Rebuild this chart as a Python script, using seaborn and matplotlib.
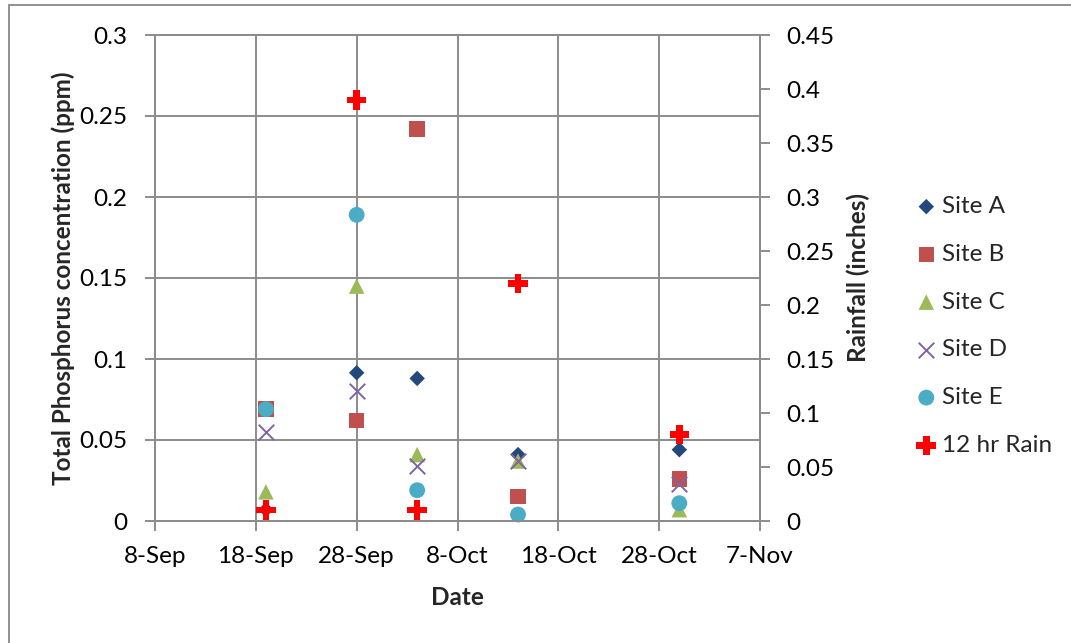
import matplotlib
matplotlib.use("Agg")
import matplotlib.pyplot as plt
from matplotlib.patches import Rectangle
import seaborn as sns
import pandas as pd

# Sampling dates and measurements
sample_dates = ["2011-09-19", "2011-09-28", "2011-10-04", "2011-10-14", "2011-10-30"]
site_a = [0.007, 0.0915, 0.088, 0.041, 0.044]
site_b = [0.069, 0.062, 0.242, 0.015, 0.026]
site_c = [0.018, 0.145, 0.041, 0.037, 0.007]
site_d = [0.055, 0.080, 0.034, 0.037, 0.023]
site_e = [0.069, 0.189, 0.019, 0.004, 0.011]
rain_12hr = [0.01, 0.39, 0.01, 0.22, 0.08]

site_names = ["Site A", "Site B", "Site C", "Site D", "Site E"]
rain_name = "12 hr Rain"

x_tick_dates = ["2011-09-08", "2011-09-18", "2011-09-28", "2011-10-08",
                "2011-10-18", "2011-10-28", "2011-11-07"]
x_tick_labels = ["8-Sep", "18-Sep", "28-Sep", "8-Oct", "18-Oct", "28-Oct", "7-Nov"]
left_ticks = [0, 0.05, 0.1, 0.15, 0.2, 0.25, 0.3]
left_tick_labels = ["0", "0.05", "0.1", "0.15", "0.2", "0.25", "0.3"]
right_ticks = [0, 0.05, 0.1, 0.15, 0.2, 0.25, 0.3, 0.35, 0.4, 0.45]
right_tick_labels = ["0", "0.05", "0.1", "0.15", "0.2", "0.25", "0.3", "0.35", "0.4", "0.45"]

sns.set_theme(style="white")
plt.rcParams["font.family"] = ["Lato", "DejaVu Sans"]

FS = 17.5
GRID = "#8c8c8c"

dates = pd.to_datetime(sample_dates)
sites = pd.DataFrame({"Date": dates, "Site A": site_a, "Site B": site_b,
                      "Site C": site_c, "Site D": site_d, "Site E": site_e})
rain = pd.DataFrame({"Date": dates, "Rain": rain_12hr})

fig = plt.figure(figsize=(10.71, 6.43), dpi=100)
ax = fig.add_axes([155 / 1071, 1 - 521 / 643, 605 / 1071, 486 / 643])
ax2 = ax.twinx()

styles = {
    "Site A": dict(marker="D", color="#23497c", s=62),
    "Site B": dict(marker="s", color="#c0504d", s=125),
    "Site C": dict(marker="^", color="#9bbb59", s=125),
    "Site D": dict(marker="x", color="#8064a2", s=125, linewidth=1.4),
    "Site E": dict(marker="o", color="#4bacc6", s=130),
}

for name in site_names:
    st = dict(styles[name])
    lw = st.pop("linewidth", 0)
    sns.scatterplot(data=sites, x="Date", y=name, ax=ax, label=name,
                    edgecolor=st["color"] if lw else "none", linewidth=lw,
                    zorder=3, clip_on=False, **st)

sns.scatterplot(data=rain, x="Date", y="Rain", ax=ax2, label=rain_name,
                marker="P", color="#ff0000", s=200, edgecolor="none",
                zorder=4, clip_on=False)

tick_pos = pd.to_datetime(x_tick_dates)
ax.set_xlim(tick_pos[0], tick_pos[-1])
ax.set_xticks(tick_pos)
ax.set_xticklabels(x_tick_labels)
ax.set_ylim(0, 0.3)
ax.set_yticks(left_ticks)
ax.set_yticklabels(left_tick_labels)
ax2.set_ylim(0, 0.45)
ax2.set_yticks(right_ticks)
ax2.set_yticklabels(right_tick_labels)

ax.grid(True, color=GRID, linewidth=1.4)
ax.set_axisbelow(True)
for a in (ax, ax2):
    for sp in a.spines.values():
        sp.set_color(GRID)
        sp.set_linewidth(1.4)
ax2.grid(False)

ax.tick_params(axis="y", direction="out", length=7, width=1.4, color=GRID,
               labelsize=FS, labelcolor="black", pad=13, left=True)
ax.tick_params(axis="x", direction="inout", length=14, width=1.4, color=GRID,
               labelsize=FS, labelcolor="black", pad=11, bottom=True)
ax2.tick_params(axis="y", direction="out", length=7, width=1.4, color=GRID,
                labelsize=FS, labelcolor="black", pad=12, right=True)

ax.set_xlabel("Date", fontsize=FS, fontweight="bold", labelpad=14)
ax.set_ylabel("Total Phosphorus concentration (ppm)", fontsize=FS,
              fontweight="bold", labelpad=3)
ax2.set_ylabel("Rainfall (inches)", fontsize=FS, fontweight="bold", labelpad=9)

h1, l1 = ax.get_legend_handles_labels()
h2, l2 = ax2.get_legend_handles_labels()
if ax.get_legend():
    ax.get_legend().remove()
if ax2.get_legend():
    ax2.get_legend().remove()
fig.legend(h1 + h2, l1 + l2, loc="upper left",
           bbox_to_anchor=(919 / 1071, 1 - 196 / 643),
           frameon=False, fontsize=FS, handlelength=0.6, handletextpad=0.35,
           labelspacing=1.1, borderaxespad=0, borderpad=0)

fig.add_artist(Rectangle((8.5 / 1071, -0.1), 1.2, 0.1 + 1 - 5.5 / 643,
                         transform=fig.transFigure, fill=False,
                         edgecolor="#888888", linewidth=1.3))

fig.savefig("out.png", dpi=100)
